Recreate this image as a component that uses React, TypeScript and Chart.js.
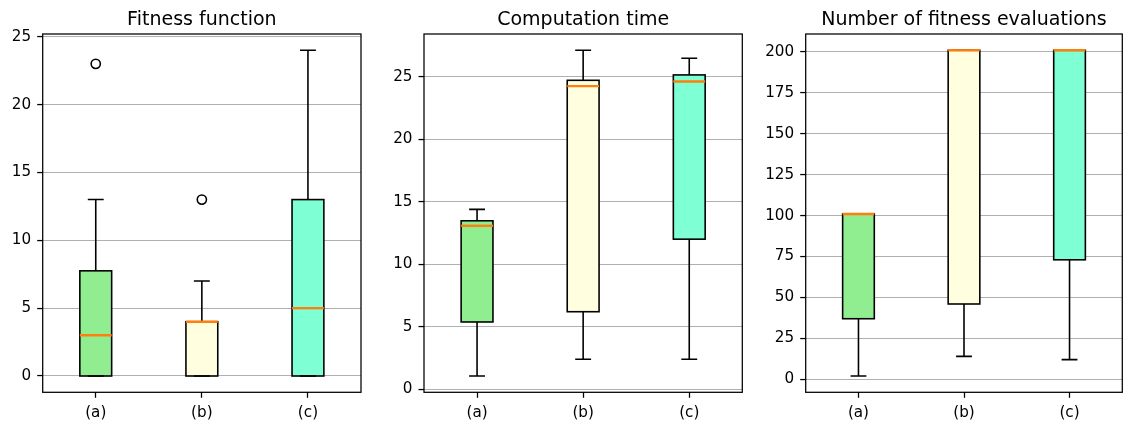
import React, { useEffect, useRef } from 'react';
import { Chart, registerables } from 'chart.js';

Chart.register(...registerables);

const categories = ['(a)', '(b)', '(c)'];
const boxColors = ['#90ee90', '#ffffe0', '#7fffd4'];

// Fitness function
const fitnessLow = [0, 0, 0];
const fitnessQ1 = [0, 0, 0];
const fitnessMedian = [3, 4, 5];
const fitnessQ3 = [7.75, 4, 13];
const fitnessHigh = [13, 7, 24];
const fitnessOutliers = [
  { x: '(a)', y: 23 },
  { x: '(b)', y: 13 },
];
const fitnessTicks = [0, 5, 10, 15, 20, 25];

// Computation time
const timeLow = [1.06, 2.4, 2.4];
const timeQ1 = [5.38, 6.2, 12.0];
const timeMedian = [13.07, 24.23, 24.6];
const timeQ3 = [13.47, 24.7, 25.13];
const timeHigh = [14.38, 27.1, 26.46];
const timeOutliers: { x: string; y: number }[] = [];
const timeTicks = [0, 5, 10, 15, 20, 25];

// Number of fitness evaluations
const evalLow = [2, 14, 12];
const evalQ1 = [37, 46, 73];
const evalMedian = [101, 201, 201];
const evalQ3 = [101, 201, 201];
const evalHigh = [101, 201, 201];
const evalOutliers: { x: string; y: number }[] = [];
const evalTicks = [0, 25, 50, 75, 100, 125, 150, 175, 200];

const FONT = 'DejaVu Sans';
const PT = 1.58;

type PanelProps = {
  title: string;
  low: number[];
  q1: number[];
  median: number[];
  q3: number[];
  high: number[];
  outliers: { x: string; y: number }[];
  yTicks: number[];
  left: number;
  width: number;
  axisWidth: number;
  padRight: number;
};

function Panel(p: PanelProps) {
  const ref = useRef<HTMLCanvasElement | null>(null);
  useEffect(() => {
    if (!ref.current) return;
    const all = [...p.low, ...p.high, ...p.outliers.map((o) => o.y)];
    const dMin = Math.min(...all);
    const dMax = Math.max(...all);
    const margin = (dMax - dMin) * 0.05;

    const boxPlugin = {
      id: 'boxExtras',
      afterDatasetsDraw(chart: any) {
        const ctx = chart.ctx;
        const y = chart.scales.y;
        const meta = chart.getDatasetMeta(0);
        ctx.save();
        meta.data.forEach((el: any, i: number) => {
          const x = el.x;
          const w = el.width;
          const yLow = y.getPixelForValue(p.low[i]);
          const yQ1 = y.getPixelForValue(p.q1[i]);
          const yQ3 = y.getPixelForValue(p.q3[i]);
          const yHigh = y.getPixelForValue(p.high[i]);
          const yMed = y.getPixelForValue(p.median[i]);
          ctx.strokeStyle = '#000';
          ctx.lineWidth = PT;
          ctx.beginPath();
          ctx.moveTo(x, yQ1);
          ctx.lineTo(x, yLow);
          ctx.moveTo(x, yQ3);
          ctx.lineTo(x, yHigh);
          ctx.moveTo(x - w / 4, yLow);
          ctx.lineTo(x + w / 4, yLow);
          ctx.moveTo(x - w / 4, yHigh);
          ctx.lineTo(x + w / 4, yHigh);
          ctx.stroke();
          ctx.strokeRect(x - w / 2, yQ3, w, yQ1 - yQ3);
          ctx.strokeStyle = '#ff7f0e';
          ctx.lineWidth = 1.5 * PT;
          ctx.beginPath();
          ctx.moveTo(x - w / 2, yMed);
          ctx.lineTo(x + w / 2, yMed);
          ctx.stroke();
        });
        ctx.restore();
      },
      afterDraw(chart: any) {
        const ctx = chart.ctx;
        const a = chart.chartArea;
        ctx.save();
        ctx.strokeStyle = '#000';
        ctx.lineWidth = 0.8 * PT;
        ctx.strokeRect(a.left, a.top, a.right - a.left, a.bottom - a.top);
        ctx.fillStyle = '#000';
        ctx.font = `19px "${FONT}"`;
        ctx.textAlign = 'center';
        ctx.textBaseline = 'alphabetic';
        ctx.fillText(p.title, (a.left + a.right) / 2, 25);
        ctx.restore();
      },
    };

    const chart = new Chart(ref.current, {
      type: 'bar',
      data: {
        labels: categories,
        datasets: [
          {
            type: 'bar',
            data: p.q1.map((v, i) => [v, p.q3[i]]) as any,
            backgroundColor: boxColors,
            borderWidth: 0,
            barPercentage: 0.3,
            categoryPercentage: 1,
            order: 2,
          },
          {
            type: 'line',
            data: p.outliers as any,
            showLine: false,
            pointRadius: 4.6,
            pointBorderWidth: PT,
            pointBorderColor: '#000',
            pointBackgroundColor: 'rgba(0,0,0,0)',
            order: 1,
          } as any,
        ],
      },
      options: {
        responsive: false,
        animation: false,
        devicePixelRatio: 1,
        layout: { padding: { top: 34, right: p.padRight, left: 0, bottom: 0 } },
        plugins: {
          legend: { display: false },
          tooltip: { enabled: false },
          title: { display: false },
        },
        scales: {
          x: {
            type: 'category',
            offset: true,
            grid: {
              display: true,
              drawOnChartArea: false,
              drawTicks: true,
              tickLength: 5.5,
              tickColor: '#000',
              tickWidth: 0.8 * PT,
              offset: false,
            },
            border: { display: false },
            ticks: {
              color: '#000',
              font: { family: FONT, size: 15.2 },
              padding: 6.5,
              maxRotation: 0,
            },
            afterFit: (s: any) => {
              s.height = 31.7;
            },
          },
          y: {
            type: 'linear',
            min: dMin - margin,
            max: dMax + margin,
            afterBuildTicks: (s: any) => {
              s.ticks = p.yTicks.map((v) => ({ value: v }));
            },
            grid: {
              color: '#b0b0b0',
              lineWidth: 1.1,
              tickColor: '#000',
              tickLength: 5.5,
              tickWidth: 0.8 * PT,
            },
            border: { display: false },
            ticks: {
              color: '#000',
              font: { family: FONT, size: 15.2 },
              padding: 6,
              callback: (v: any) => String(v),
            },
            afterFit: (s: any) => {
              s.width = p.axisWidth;
            },
          },
        },
      } as any,
      plugins: [boxPlugin],
    });
    return () => chart.destroy();
  }, []);
  return (
    <canvas
      ref={ref}
      width={p.width}
      height={424}
      style={{ position: 'absolute', left: p.left, top: 0, width: p.width, height: 424 }}
    />
  );
}

export default function App() {
  return (
    <div style={{ position: 'absolute', left: 0, top: 0, width: 1124, height: 424, background: '#fff' }}>
      <Panel
        title="Fitness function"
        low={fitnessLow}
        q1={fitnessQ1}
        median={fitnessMedian}
        q3={fitnessQ3}
        high={fitnessHigh}
        outliers={fitnessOutliers}
        yTicks={fitnessTicks}
        left={0}
        width={370}
        axisWidth={42.7}
        padRight={9}
      />
      <Panel
        title="Computation time"
        low={timeLow}
        q1={timeQ1}
        median={timeMedian}
        q3={timeQ3}
        high={timeHigh}
        outliers={timeOutliers}
        yTicks={timeTicks}
        left={370}
        width={382}
        axisWidth={54}
        padRight={9.7}
      />
      <Panel
        title="Number of fitness evaluations"
        low={evalLow}
        q1={evalQ1}
        median={evalMedian}
        q3={evalQ3}
        high={evalHigh}
        outliers={evalOutliers}
        yTicks={evalTicks}
        left={752}
        width={372}
        axisWidth={53.7}
        padRight={1.7}
      />
    </div>
  );
}
